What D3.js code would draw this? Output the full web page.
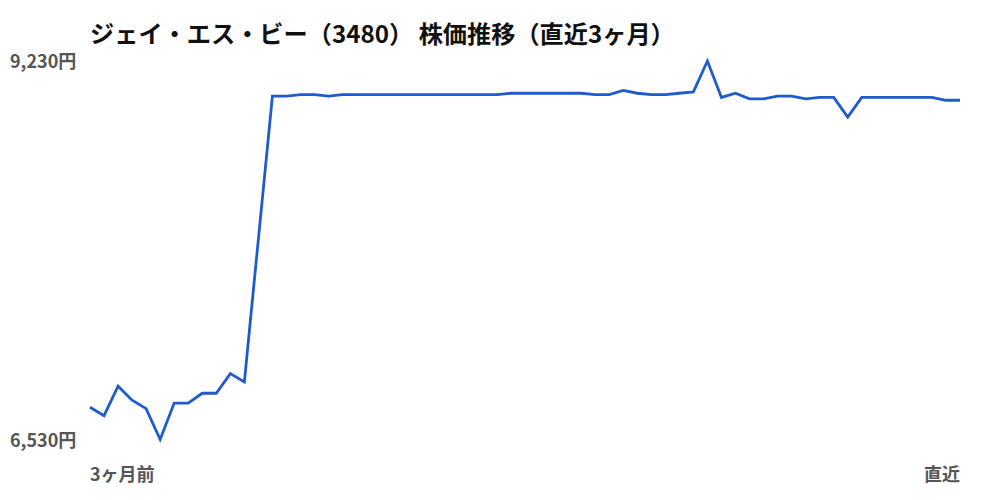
<!DOCTYPE html>
<html>
<head>
<meta charset="utf-8">
<script src="https://cdn.jsdelivr.net/npm/d3@7"></script>
<style>
    body { margin: 0; background: #fff; }
    svg text { font-family: "Noto Sans CJK JP", "Noto Sans", sans-serif; }
</style>
</head>
<body>
<div id="chart"></div>
<script>
// closing prices, oldest -> latest (63 trading days)
const prices = [
    6760, 6700, 6910, 6810, 6750, 6530, 6790, 6790, 6860, 6860,
    7000, 6940, 7960, 8980, 8980, 8990, 8990, 8980, 8990, 8990,
    8990, 8990, 8990, 8990, 8990, 8990, 8990, 8990, 8990, 8990,
    9000, 9000, 9000, 9000, 9000, 9000, 8990, 8990, 9020, 9000,
    8990, 8990, 9000, 9010, 9230, 8970, 9000, 8960, 8960, 8980,
    8980, 8960, 8970, 8970, 8830, 8970, 8970, 8970, 8970, 8970,
    8970, 8950, 8950
];
const title = 'ジェイ・エス・ビー（3480） 株価推移（直近3ヶ月）';
const xLabels = ['3ヶ月前', '直近'];
const yUnit = '円';

const width = 1000;
const height = 500;
const margin = { top: 61, right: 40, bottom: 60, left: 90 };

const svg = d3.select('#chart').append('svg')
    .attr('width', width)
    .attr('height', height);

const x = d3.scaleLinear()
    .domain([0, prices.length - 1])
    .range([margin.left, width - margin.right]);

const yMin = d3.min(prices);
const yMax = d3.max(prices);
const y = d3.scaleLinear()
    .domain([yMin, yMax])
    .range([height - margin.bottom - 0.5, margin.top]);

// title
svg.append('text')
    .attr('x', 90)
    .attr('y', 43)
    .style('font-size', '24.2px')
    .style('font-weight', 'bold')
    .style('fill', '#111')
    .text(title);

// y labels: only max and min
const fmt = d3.format(',');
svg.selectAll('text.ylab')
    .data([yMax, yMin])
    .enter()
    .append('text')
    .attr('class', 'ylab')
    .attr('x', 10)
    .attr('y', (d) => y(d) + 7)
    .style('font-size', '18px')
    .style('font-weight', 'bold')
    .style('fill', '#555')
    .text((d) => fmt(d) + yUnit);

// x labels at both ends
svg.selectAll('text.xlab')
    .data(xLabels)
    .enter()
    .append('text')
    .attr('class', 'xlab')
    .attr('x', (d, i) => (i === 0 ? x(0) : x(prices.length - 1)))
    .attr('y', 481)
    .attr('text-anchor', (d, i) => (i === 0 ? 'start' : 'end'))
    .style('font-size', '18px')
    .style('font-weight', 'bold')
    .style('fill', '#555')
    .text((d) => d);

// price line
const line = d3.line()
    .x((d, i) => x(i))
    .y((d) => y(d));

svg.append('path')
    .datum(prices)
    .attr('fill', 'none')
    .attr('stroke', '#1f5bcc')
    .attr('stroke-width', 2.8)
    .attr('stroke-linejoin', 'miter')
    .attr('d', line);
</script>
</body>
</html>
